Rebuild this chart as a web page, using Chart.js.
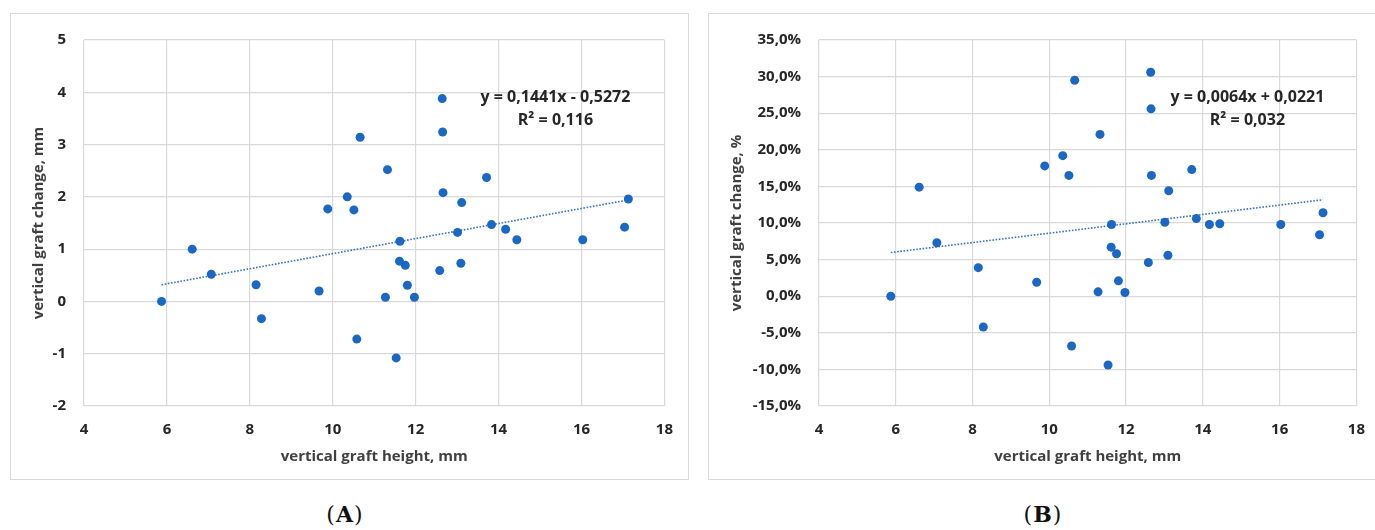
<!DOCTYPE html>
<html>
<head>
<meta charset="utf-8">
<script src="https://cdn.jsdelivr.net/npm/chart.js@4/dist/chart.umd.min.js"></script>
<style>
  html, body { margin: 0; padding: 0; background: #fff; width: 1375px; height: 530px; overflow: hidden; }
  .panel { position: absolute; top: 13px; height: 467px; box-sizing: border-box; border: 1px solid #d9d9d9; }
  #panelA { left: 10px; width: 679px; }
  #panelB { left: 708px; width: 680px; }
  canvas { position: absolute; }
  .caption { position: absolute; top: 501px; font-family: "DejaVu Serif", "Liberation Serif", serif; font-size: 22px; color: #111; letter-spacing: 1px; transform: translateX(-50%); white-space: nowrap; }
  .caption b { font-weight: bold; }
</style>
</head>
<body>
<div class="panel" id="panelA"></div>
<div class="panel" id="panelB"></div>
<canvas id="chartA" width="678" height="467" style="left:10px; top:13px;"></canvas>
<canvas id="chartB" width="672" height="467" style="left:708px; top:13px;"></canvas>
<div class="caption" style="left:345px;">(<b>A</b>)</div>
<div class="caption" style="left:1043px;">(<b>B</b>)</div>

<script>
// Vertical graft height (mm) for each patient
const heightMm = [5.87, 6.61, 7.07, 8.15, 8.28, 9.67, 9.88, 10.35, 10.51, 10.58, 10.66,
  11.27, 11.32, 11.53, 11.62, 11.61, 11.75, 11.80, 11.97, 12.58, 12.64, 12.65,
  12.66, 13.01, 13.09, 13.11, 13.71, 13.83, 14.17, 14.44, 16.03, 17.04, 17.13];

// Absolute vertical graft change (mm)
const changeMm = [0, 1.00, 0.52, 0.32, -0.33, 0.20, 1.77, 2.00, 1.75, -0.72, 3.14,
  0.08, 2.52, -1.08, 1.15, 0.77, 0.69, 0.31, 0.08, 0.59, 3.88, 3.24,
  2.08, 1.32, 0.73, 1.89, 2.37, 1.47, 1.38, 1.18, 1.18, 1.42, 1.96];

// Relative vertical graft change (fraction, shown as %)
const changePct = [0, 0.149, 0.073, 0.039, -0.042, 0.019, 0.178, 0.192, 0.165, -0.068, 0.295,
  0.006, 0.221, -0.094, 0.098, 0.067, 0.058, 0.021, 0.005, 0.046, 0.306, 0.256,
  0.165, 0.101, 0.056, 0.144, 0.173, 0.106, 0.098, 0.099, 0.098, 0.084, 0.114];

// Linear trend coefficients: [panel A, panel B]
const trendSlope = [0.1441, 0.0064];
const trendIntercept = [-0.5272, 0.0221];
const trendEquation = ['y = 0,1441x - 0,5272', 'y = 0,0064x + 0,0221'];
const trendR2 = ['R\u00B2 = 0,116', 'R\u00B2 = 0,032'];

// Axis ranges and labels
const xAxisRange = [4, 18, 2];
const yRangeMm = [-2, 5, 1];
const yRangePct = [-0.15, 0.35, 0.05];
const xTitle = 'vertical graft height, mm';
const yTitleMm = 'vertical graft change, mm';
const yTitlePct = 'vertical graft change, %';

const FONT = '"Open Sans", Lato, "DejaVu Sans", sans-serif';
const DOT = '#1b68c4';
const TREND = '#3572c0';
const GRID = '#d9d9d9';

function points(ys) {
  return heightMm.map((x, i) => ({ x: x, y: ys[i] }));
}

function trendPoints(k) {
  const xMin = Math.min(...heightMm), xMax = Math.max(...heightMm);
  return [xMin, xMax].map(x => ({ x: x, y: trendSlope[k] * x + trendIntercept[k] }));
}

const equationLabel = {
  id: 'equationLabel',
  afterDatasetsDraw(chart, args, opts) {
    const ctx = chart.ctx, area = chart.chartArea;
    ctx.save();
    ctx.font = 'bold 16px ' + FONT;
    ctx.fillStyle = '#262626';
    ctx.textAlign = 'center';
    ctx.textBaseline = 'middle';
    const cx = area.right - 109;
    ctx.fillText(opts.eq, cx, area.top + 57);
    ctx.fillText(opts.r2, cx, area.top + 80);
    ctx.restore();
  }
};

function makeChart(id, k, ys, yRange, yTitle, yWidth, yFmt) {
  const tickFont = { family: FONT, size: 15, weight: 'bold' };
  return new Chart(document.getElementById(id), {
    type: 'scatter',
    data: {
      datasets: [
        {
          data: points(ys),
          backgroundColor: DOT,
          borderWidth: 0,
          pointRadius: 4.5,
          pointHoverRadius: 4.5
        },
        {
          type: 'line',
          data: trendPoints(k),
          borderColor: TREND,
          borderWidth: 1.6,
          borderDash: [1.6, 1.6],
          pointRadius: 0,
          fill: false
        }
      ]
    },
    options: {
      responsive: false,
      devicePixelRatio: 1,
      animation: false,
      events: [],
      layout: { padding: { left: 20, top: 17, right: id === 'chartA' ? 21 : 15, bottom: 0 } },
      plugins: {
        legend: { display: false },
        tooltip: { enabled: false },
        equationLabel: { eq: trendEquation[k], r2: trendR2[k] }
      },
      scales: {
        x: {
          type: 'linear',
          min: xAxisRange[0], max: xAxisRange[1],
          ticks: { stepSize: xAxisRange[2], padding: 15, color: '#262626', font: tickFont },
          grid: { color: GRID, lineWidth: 1.2, drawTicks: false },
          border: { display: false },
          title: { display: true, text: xTitle, color: '#404040', padding: { top: 0, bottom: 14 }, font: tickFont },
          afterFit(s) { s.height = 74; }
        },
        y: {
          type: 'linear',
          min: yRange[0], max: yRange[1],
          ticks: { stepSize: yRange[2], padding: 18, color: '#262626', font: tickFont, callback: yFmt },
          grid: { color: GRID, lineWidth: 1.2, drawTicks: false },
          border: { display: false },
          title: { display: true, text: yTitle, color: '#404040', padding: { top: 0, bottom: 0 }, font: tickFont },
          afterFit(s) { s.width = yWidth; }
        }
      }
    },
    plugins: [equationLabel]
  });
}

makeChart('chartA', 0, changeMm, yRangeMm, yTitleMm, 54, v => String(Math.round(v)));
makeChart('chartB', 1, changePct, yRangePct, yTitlePct, 91,
  v => (Math.round(v * 1000) / 10).toFixed(1).replace('.', ',') + '%');
</script>
</body>
</html>
